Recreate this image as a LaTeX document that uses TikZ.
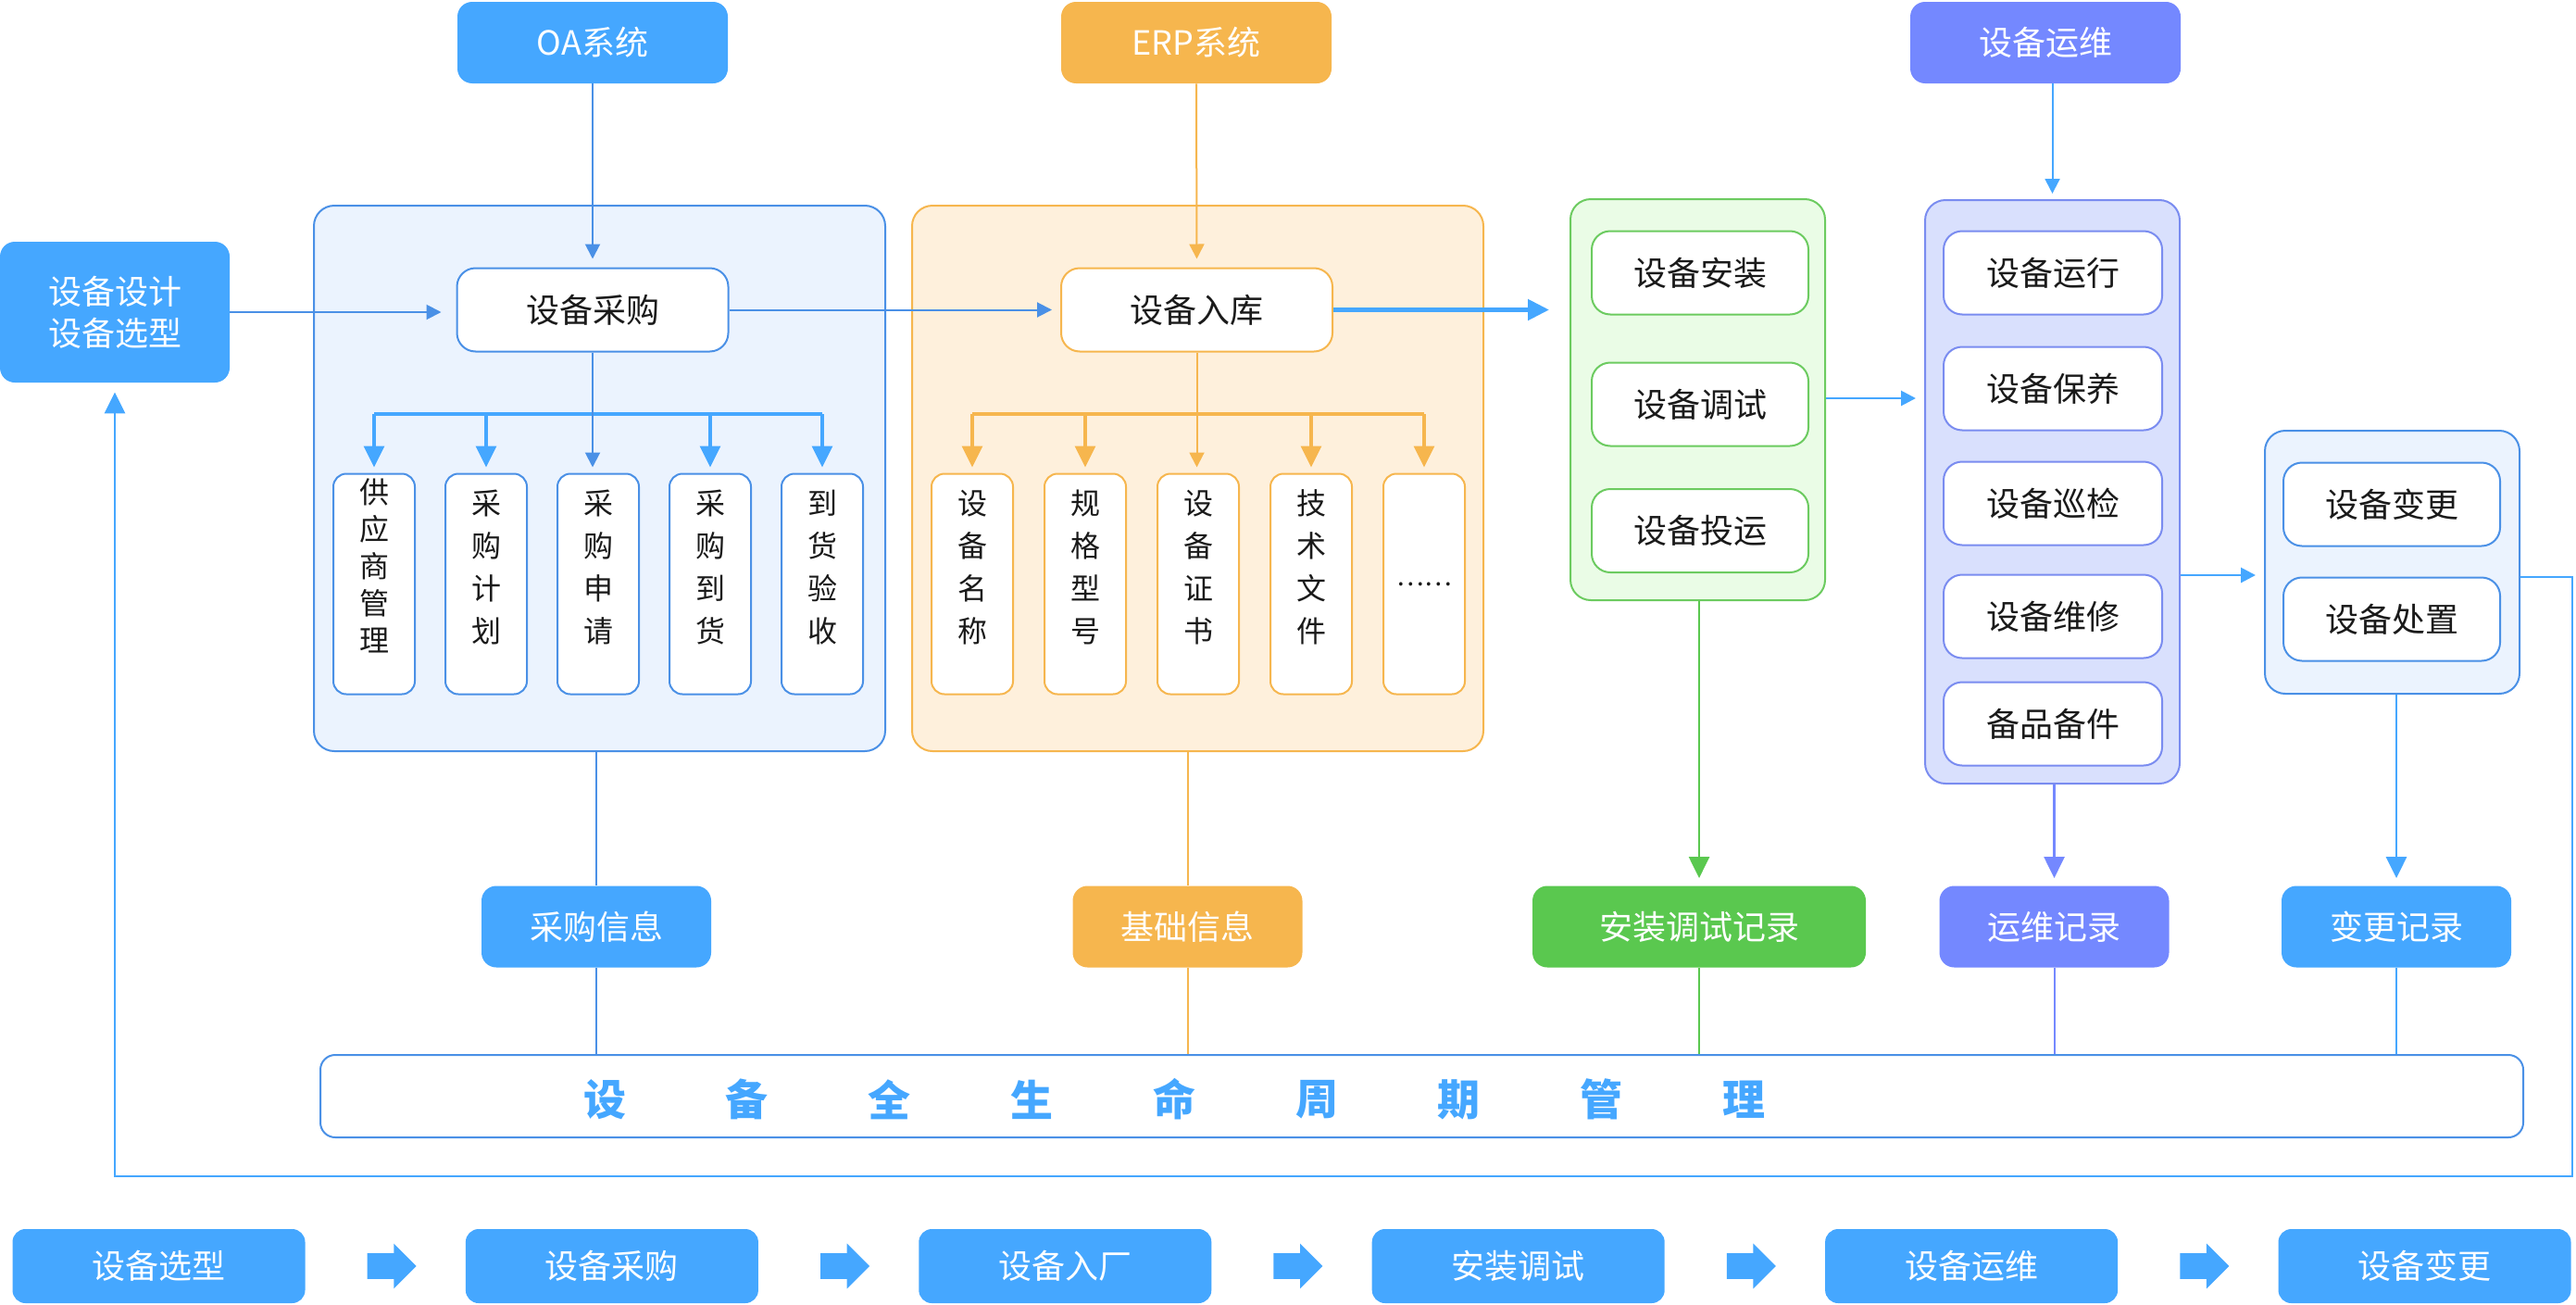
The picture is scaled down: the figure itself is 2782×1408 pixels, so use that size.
\documentclass[tikz,border=0pt]{standalone}
\usepackage{fontspec}
\setmainfont{Noto Sans CJK SC}
\usetikzlibrary{arrows.meta,positioning,shapes.arrows,calc}

\definecolor{skyblue}{HTML}{45A7FF}
\definecolor{lineblue}{HTML}{4A90E6}
\definecolor{sysorange}{HTML}{F6B64E}
\definecolor{syspurple}{HTML}{7488FF}
\definecolor{sysgreen}{HTML}{5AC84F}
\definecolor{fillblue}{HTML}{EBF3FE}
\definecolor{fillorange}{HTML}{FEF0DC}
\definecolor{fillgreen}{HTML}{EAFCE6}
\definecolor{fillpurple}{HTML}{D9E0FD}
\definecolor{edgegreen}{HTML}{6CCB60}
\definecolor{edgepurple}{HTML}{7A8CF0}
\definecolor{inkgray}{HTML}{1A1A1A}

\newcommand\vtext[1]{\raisebox{7.5pt}[\height][\depth]{\begin{tabular}{@{}c@{}}#1\end{tabular}}}

\begin{document}
\begin{tikzpicture}[x=0.5pt,y=-0.5pt,
  sys/.style={rounded corners=8pt,fill=#1,text=white,minimum width=146pt,
              minimum height=44pt,font=\fontsize{18pt}{22pt}\selectfont,inner sep=0pt},
  grp/.style 2 args={draw=#1,fill=#2,line width=1pt,rounded corners=11pt,inner sep=0pt},
  item/.style={draw=#1,fill=white,line width=1pt,rounded corners=10pt,minimum width=117pt,
               minimum height=45pt,text=inkgray,font=\fontsize{18pt}{22pt}\selectfont,inner sep=0pt},
  vitem/.style={draw=#1,fill=white,line width=1pt,rounded corners=7pt,minimum width=44pt,
                minimum height=119pt,text=inkgray,inner sep=0pt},
  rec/.style={sys=#1,minimum width=124pt},
  flow/.style={sys=skyblue,minimum width=158pt,minimum height=40pt,rounded corners=7pt},
  blk/.style={single arrow,fill=skyblue,inner xsep=0pt,inner ysep=6.75pt,minimum height=26.5pt,
              minimum width=24pt,single arrow head extend=5.25pt,single arrow head indent=0pt},
  arr/.style={draw=#1,line width=1pt,-{Triangle[length=8pt,width=8pt]},shorten >=4.5pt},
  arrB/.style={draw=#1,line width=1.6pt,-{Triangle[length=11.5pt,width=11pt]},shorten >=4pt},
  lnk/.style={draw=#1,line width=1pt}
]
\useasboundingbox (0,0) rectangle (2782,1408);

% groups
\node[grp={lineblue}{fillblue},minimum width=308.5pt,minimum height=294.5pt]   (gbuy)   at (647.5,516.5) {};
\node[grp={sysorange}{fillorange},minimum width=308.5pt,minimum height=294.5pt](gstore) at (1293.5,516.5) {};
\node[grp={edgegreen}{fillgreen},minimum width=137.5pt,minimum height=216.5pt] (ginst)  at (1833.5,431.5) {};
\node[grp={edgepurple}{fillpurple},minimum width=137.5pt,minimum height=315pt] (gops)   at (2216.5,531) {};
\node[grp={lineblue}{fillblue},minimum width=137.5pt,minimum height=142pt]     (gchg)   at (2583.5,607) {};

% source systems
\node[sys=skyblue]   (oa)    at (640,46)  {OA系统};
\node[sys=sysorange] (erp)   at (1292,46) {ERP系统};
\node[sys=syspurple] (opsys) at (2209,46) {设备运维};
\node[sys=skyblue,minimum width=124pt,minimum height=76pt,align=center,
      font=\fontsize{18pt}{22.5pt}\selectfont] (design) at (124,337) {设备设计\\设备选型};

% main steps
\node[item=lineblue,minimum width=146.5pt]  (buy)   at (640,334.5)    {设备采购};
\node[item=sysorange,minimum width=146.5pt] (store) at (1292.5,334.5) {设备入库};

\foreach \t/\s [count=\i] in {{供\\应\\商\\管\\理}/20,{采\\购\\计\\划}/23,{采\\购\\申\\请}/23,
                              {采\\购\\到\\货}/23,{到\\货\\验\\收}/23}
  \node[vitem=lineblue,font=\fontsize{16pt}{\s pt}\selectfont] (b\i) at ({404+121*(\i-1)},630.5) {\vtext{\t}};
\foreach \t [count=\i] in {{设\\备\\名\\称},{规\\格\\型\\号},{设\\备\\证\\书},{技\\术\\文\\件}}
  \node[vitem=sysorange,font=\fontsize{16pt}{23pt}\selectfont] (e\i) at ({1050+122*(\i-1)},630.5) {\vtext{\t}};
\node[vitem=sysorange,font=\fontsize{14pt}{16pt}\selectfont] (e5) at (1538,630.5) {……};

\node[item=edgegreen] (inst)   at (1836,294.5) {设备安装};
\node[item=edgegreen] (debug)  at (1836,436.5) {设备调试};
\node[item=edgegreen] (commis) at (1836,573)   {设备投运};

\node[item=edgepurple,minimum width=118pt] (run)    at (2217,294.5) {设备运行};
\node[item=edgepurple,minimum width=118pt] (maint)  at (2217,419.5) {设备保养};
\node[item=edgepurple,minimum width=118pt] (patrol) at (2217,543.5) {设备巡检};
\node[item=edgepurple,minimum width=118pt] (repair) at (2217,665.5) {设备维修};
\node[item=edgepurple,minimum width=118pt] (spare)  at (2217,781.5) {备品备件};

\node[item=lineblue] (chg)  at (2583,544.5) {设备变更};
\node[item=lineblue] (disp) at (2583,668.5) {设备处置};

% records
\node[rec=skyblue]                    (rbuy)  at (644,1000.5)    {采购信息};
\node[rec=sysorange]                  (rbase) at (1282.5,1000.5) {基础信息};
\node[rec=sysgreen,minimum width=180pt] (rinst) at (1835,1000.5) {安装调试记录};
\node[rec=syspurple]                  (rops)  at (2218.5,1000.5) {运维记录};
\node[rec=skyblue]                    (rchg)  at (2588,1000.5)   {变更记录};

% lifecycle bar
\node[draw=lineblue,line width=1pt,fill=white,rounded corners=8pt,minimum width=1189.5pt,
      minimum height=44.5pt] (life) at (1535.5,1183.5) {};
\foreach \c [count=\i] in {设,备,全,生,命,周,期,管,理}
  \node[font=\fontsize{23pt}{23pt}\selectfont\bfseries,text=skyblue] (life\i) at ({653+153.8*(\i-1)},1187) {\c};

% bottom flow
\foreach \t [count=\i] in {设备选型,设备采购,设备入厂,安装调试,设备运维,设备变更}
  \node[flow] (f\i) at ({171.5+489.4*(\i-1)},1367) {\t};
\foreach \i [count=\j from 2] in {1,...,5}
  \node[blk] (a\i) at ($(f\i.east)!0.5!(f\j.west)$) {};

% connectors
\draw[arr=lineblue]  (oa.south) -- (buy.north);
\draw[arr=sysorange] (erp.south) -- (store.north);
\draw[arr=skyblue,shorten >=3pt] (opsys.south -| gops.north) -- (gops.north);
\draw[arr=lineblue,shorten >=8pt] (design.east) -- (design.east -| buy.west);
\draw[arr=lineblue]  (buy) -- (store);
\draw[arrB=skyblue,line width=2.5pt,shorten >=11pt] (store.east) -- (store.east -| ginst.west);
\draw[arr=skyblue,line width=1.4pt] (ginst.east |- 0,430) -- (gops.west |- 0,430);
\draw[arr=skyblue,line width=1.4pt] (gops.east |- 0,621) -- (gchg.west |- 0,621);

\coordinate (bjoin) at (640,447);
\draw[lnk=skyblue,line width=2pt] (b1.north |- bjoin) -- (b5.north |- bjoin);
\foreach \i in {1,2,4,5}
  \draw[arrB=skyblue,shorten >=3pt] (b\i.north |- bjoin) -- (b\i.north);
\draw[arr=lineblue,shorten >=3pt] (buy.south) -- (buy.south |- b3.north);

\coordinate (ejoin) at (1292,447);
\draw[lnk=sysorange,line width=2pt] (e1.north |- ejoin) -- (e5.north |- ejoin);
\foreach \i in {1,2,4,5}
  \draw[arrB=sysorange,shorten >=3pt] (e\i.north |- ejoin) -- (e\i.north);
\draw[arr=sysorange,shorten >=3pt] (store.south) -- (store.south |- e3.north);

\draw[lnk=lineblue]  (gbuy.south -| rbuy.north) -- (rbuy.north);
\draw[lnk=sysorange] (gstore.south -| rbase.north) -- (rbase.north);
\draw[arrB=sysgreen,line width=1.2pt]  (ginst.south -| rinst.north) -- (rinst.north);
\draw[arrB=syspurple,line width=1.2pt] (gops.south -| rops.north) -- (rops.north);
\draw[arrB=skyblue,line width=1.4pt]   (gchg.south -| rchg.north) -- (rchg.north);
\foreach \r/\c in {rbuy/lineblue,rbase/sysorange,rinst/sysgreen,rops/syspurple,rchg/skyblue}
  \draw[lnk=\c] (\r.south) -- (\r.south |- life.north);

% feedback loop
\coordinate (loopR) at (2778,1270);
\draw[arrB=skyblue,line width=1.4pt,shorten >=5pt] (gchg.east |- 0,623) -| (loopR) -| (design.south);
\end{tikzpicture}
\end{document}
